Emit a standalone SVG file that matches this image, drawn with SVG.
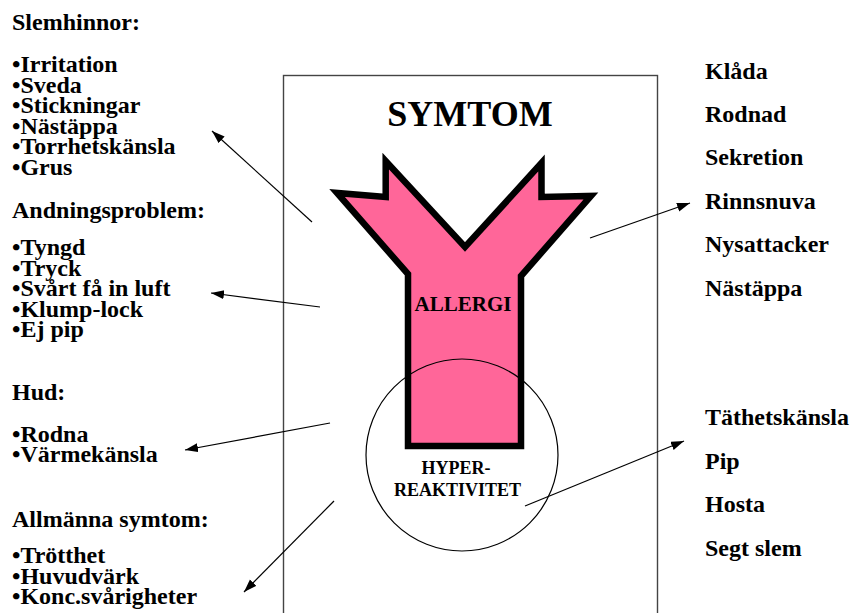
<svg xmlns="http://www.w3.org/2000/svg" width="854" height="613" viewBox="0 0 854 613">
<style>
text{font-family:"Liberation Serif","Times New Roman",serif;font-weight:bold;fill:#000}
.t{font-size:24px}
.c{text-anchor:middle}
.arr{stroke:#000;stroke-width:1.2;fill:none;marker-end:url(#ah)}
</style>
<defs>
<marker id="ah" markerUnits="userSpaceOnUse" markerWidth="14" markerHeight="10" refX="13" refY="4.5" orient="auto">
<path d="M0,0 L13,4.5 L0,9 z" fill="#000"/>
</marker>
</defs>
<rect width="854" height="613" fill="#fff"/>
<g id="frame">
<rect x="283.5" y="75.5" width="374" height="560" fill="none" stroke="#444" stroke-width="1.4"/>
<text class="c" x="470" y="126" font-size="36">SYMTOM</text>
</g>
<g id="allergi">
<polygon points="408,446 408,274 337,193 385.7,197 385.7,161 465,247 541.5,163 541.5,197 591,196 521,276 521,446" fill="#FF6699" stroke="#000" stroke-width="6.5" stroke-linejoin="miter"/>
<text class="c" x="463" y="311" font-size="21">ALLERGI</text>
</g>
<g id="hyperreaktivitet">
<circle cx="462" cy="455" r="96" fill="none" stroke="#000" stroke-width="1.2"/>
<text class="c" x="456" y="474" font-size="18">HYPER-</text>
<text class="c" x="457.5" y="496" font-size="18">REAKTIVITET</text>
</g>
<g id="slemhinnor" class="t">
<text x="12" y="30">Slemhinnor:</text>
<text x="12" y="72">•Irritation</text>
<text x="12" y="92.5">•Sveda</text>
<text x="12" y="113">•Stickningar</text>
<text x="12" y="133.5">•Nästäppa</text>
<text x="12" y="154">•Torrhetskänsla</text>
<text x="12" y="174.5">•Grus</text>
</g>
<g id="andningsproblem" class="t">
<text x="12" y="218">Andningsproblem:</text>
<text x="12" y="255">•Tyngd</text>
<text x="12" y="275.5">•Tryck</text>
<text x="12" y="296">•Svårt få in luft</text>
<text x="12" y="316.5">•Klump-lock</text>
<text x="12" y="337">•Ej pip</text>
</g>
<g id="hud" class="t">
<text x="12" y="400">Hud:</text>
<text x="12" y="441.5">•Rodna</text>
<text x="12" y="462">•Värmekänsla</text>
</g>
<g id="allmanna" class="t">
<text x="12" y="527">Allmänna symtom:</text>
<text x="12" y="563">•Trötthet</text>
<text x="12" y="583.5">•Huvudvärk</text>
<text x="12" y="604">•Konc.svårigheter</text>
</g>
<g id="hudsymtom" class="t">
<text x="705" y="78.5">Klåda</text>
<text x="705" y="122">Rodnad</text>
<text x="705" y="165">Sekretion</text>
<text x="705" y="208.5">Rinnsnuva</text>
<text x="705" y="252">Nysattacker</text>
<text x="705" y="296">Nästäppa</text>
</g>
<g id="lungsymtom" class="t">
<text x="705" y="425">Täthetskänsla</text>
<text x="705" y="468.5">Pip</text>
<text x="705" y="512">Hosta</text>
<text x="705" y="555.5">Segt slem</text>
</g>
<g id="connectors">
<line class="arr" x1="312" y1="222" x2="212" y2="131"/>
<line class="arr" x1="320" y1="307" x2="211" y2="293"/>
<line class="arr" x1="330" y1="423" x2="185" y2="450"/>
<line class="arr" x1="334" y1="501" x2="244" y2="592"/>
<line class="arr" x1="590" y1="238" x2="690" y2="203"/>
<line class="arr" x1="525" y1="506" x2="684" y2="441"/>
</g>
</svg>
